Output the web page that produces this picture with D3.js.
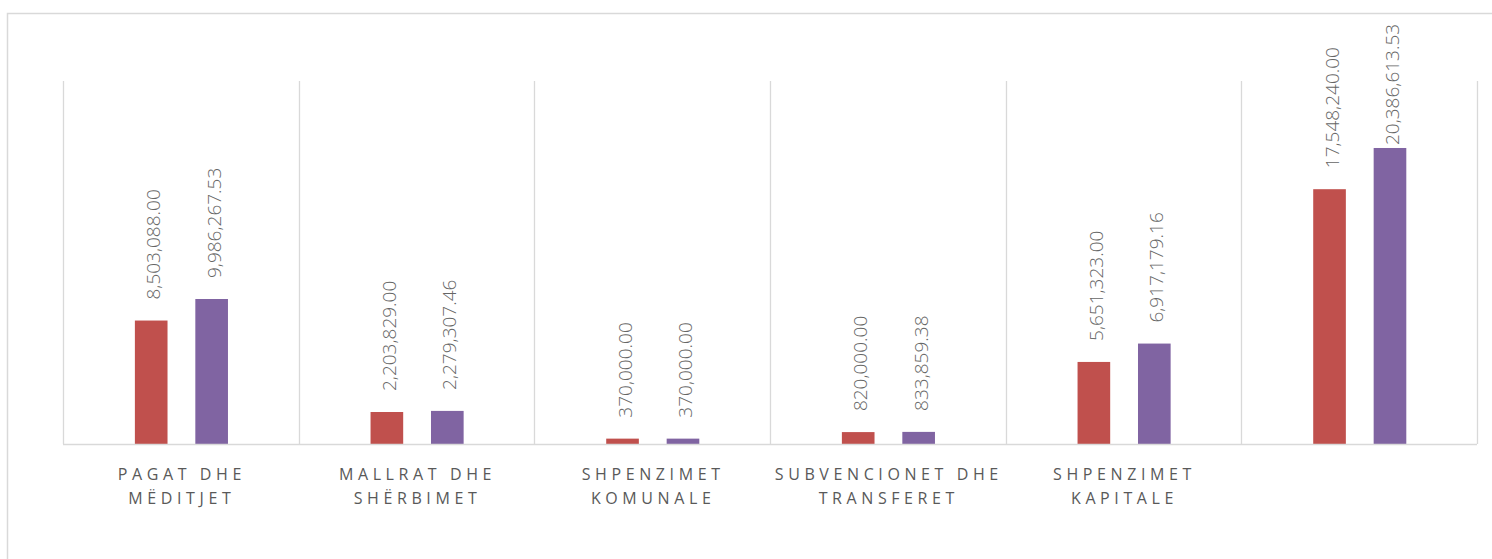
<!DOCTYPE html>
<html>
<head>
<meta charset="utf-8">
<script src="https://cdn.jsdelivr.net/npm/d3@7"></script>
<style>
  body { margin: 0; background: #fff; }
  text { font-family: "Open Sans", sans-serif; fill: #595959; }
</style>
</head>
<body>
<div id="chart"></div>
<script>
// category labels (two lines each), last category has no label
var categories = [
  ["PAGAT DHE", "MËDITJET"],
  ["MALLRAT DHE", "SHËRBIMET"],
  ["SHPENZIMET", "KOMUNALE"],
  ["SUBVENCIONET DHE", "TRANSFERET"],
  ["SHPENZIMET", "KAPITALE"],
  []
];
var seriesA = [8503088.00, 2203829.00, 370000.00, 820000.00, 5651323.00, 17548240.00];
var seriesB = [9986267.53, 2279307.46, 370000.00, 833859.38, 6917179.16, 20386613.53];
var colors = ["#C0504D", "#8064A2"];
var yMax = 25000000;

var w = 1492;
var h = 559;
// plot area edges (note: "top" is reserved on window, so use other names)
var plotL = 63, plotR = 1477, plotT = 81, plotB = 444;

var svg = d3.select("#chart")
  .append("svg")
  .attr("width", w)
  .attr("height", h);

// chart border (runs off the right and bottom edges)
svg.append("rect")
  .attr("x", 7.5)
  .attr("y", 13.5)
  .attr("width", 1600)
  .attr("height", 700)
  .attr("fill", "none")
  .attr("stroke", "#d9d9d9")
  .attr("stroke-width", 1.5);

var idx = d3.range(categories.length);

var xScale = d3.scaleBand()
  .domain(idx)
  .range([plotL, plotR])
  .padding(0);

var bw = xScale.bandwidth();
var xInner = d3.scaleBand()
  .domain([0, 1])
  .range([0.305 * bw, 0.7 * bw])
  .paddingInner(0.46);

var yScale = d3.scaleLinear()
  .domain([0, yMax])
  .range([plotB, plotT]);

// vertical gridlines between categories
var edges = idx.map(function(i) { return xScale(i); }).concat([plotR]);
svg.selectAll("line.grid")
  .data(edges)
  .enter()
  .append("line")
  .attr("class", "grid")
  .attr("x1", function(d) { return Math.round(d) + 0.5; })
  .attr("x2", function(d) { return Math.round(d) + 0.5; })
  .attr("y1", yScale(yMax))
  .attr("y2", yScale(0))
  .attr("stroke", "#d9d9d9")
  .attr("stroke-width", 1.3);

// bars
var series = [seriesA, seriesB];
var fmt = d3.format(",.2f");

series.forEach(function(vals, s) {
  var g = svg.append("g");
  g.selectAll("rect")
    .data(vals)
    .enter()
    .append("rect")
    .attr("x", function(d, i) { return xScale(i) + xInner(s); })
    .attr("y", function(d) { return yScale(d); })
    .attr("width", xInner.bandwidth())
    .attr("height", function(d) { return yScale(0) - yScale(d); })
    .attr("fill", colors[s]);

  // value labels, rotated; pushed down if they would leave the chart
  g.selectAll("text")
    .data(vals)
    .enter()
    .append("text")
    .attr("transform", function(d, i) {
      var cx = xScale(i) + xInner(s) + xInner.bandwidth() / 2 + 2.5;
      var yy = Math.max(yScale(d) - 21, 145);
      return "translate(" + cx + "," + yy + ") rotate(-90)";
    })
    .attr("dy", "0.35em")
    .attr("text-anchor", "start")
    .style("font-size", "19px")
    .style("font-weight", "300")
    .style("fill", "#666")
    .text(function(d) { return fmt(d); });
});

// baseline
svg.append("line")
  .attr("x1", plotL)
  .attr("x2", plotR)
  .attr("y1", plotB + 0.5)
  .attr("y2", plotB + 0.5)
  .attr("stroke", "#d9d9d9")
  .attr("stroke-width", 1.5);

// category labels
var cat = svg.selectAll("text.cat")
  .data(categories)
  .enter()
  .append("text")
  .attr("class", "cat")
  .attr("text-anchor", "middle")
  .style("font-size", "16px")
  .style("letter-spacing", "4.6px");

cat.selectAll("tspan")
  .data(function(d, i) { return d.map(function(t) { return { t: t, i: i }; }); })
  .enter()
  .append("tspan")
  .attr("x", function(d) { return xScale(d.i) + bw / 2 + 1; })
  .attr("y", function(d, j) { return 480 + j * 23.5; })
  .text(function(d) { return d.t; });
</script>
</body>
</html>
